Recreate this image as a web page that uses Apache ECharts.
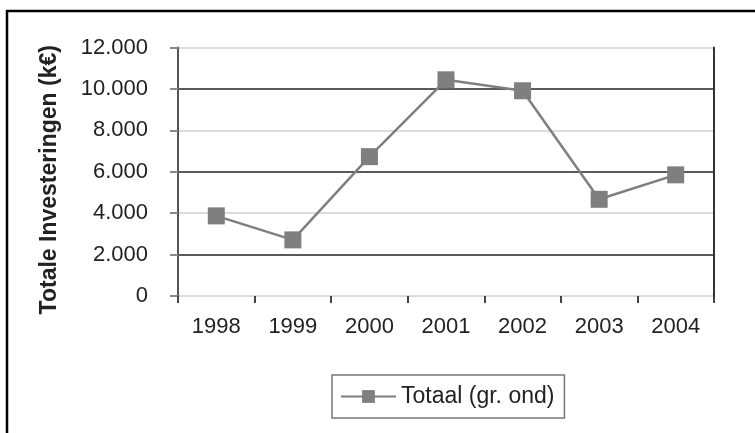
<!DOCTYPE html>
<html>
<head>
<meta charset="utf-8">
<script src="https://cdn.jsdelivr.net/npm/echarts@6/dist/echarts.min.js"></script>
<style>
html,body{margin:0;padding:0;background:#fff;}
#chart{width:755px;height:433px;}
</style>
</head>
<body>
<div id="chart"></div>
<script>
const categories = ['1998', '1999', '2000', '2001', '2002', '2003', '2004'];
const totaalValues = [3870, 2710, 6730, 10440, 9910, 4670, 5850];
const yTickLabels = ['0', '2.000', '4.000', '6.000', '8.000', '10.000', '12.000'];
const seriesName = 'Totaal (gr. ond)';
const yAxisTitle = 'Totale Investeringen (k€)';

const FONT = '"Liberation Sans", Arial, sans-serif';
const chart = echarts.init(document.getElementById('chart'), null, {renderer: 'canvas'});
chart.setOption({
  animation: false,
  backgroundColor: '#ffffff',
  textStyle: {fontFamily: FONT},
  graphic: [{
    type: 'polyline',
    shape: {points: [[7, 433], [7, 11], [755, 11]]},
    style: {stroke: '#000', lineWidth: 2.5, fill: null},
    silent: true
  }],
  grid: {left: 178, right: 41, top: 47.5, bottom: 137, containLabel: false},
  legend: {
    data: [seriesName],
    left: 332, top: 375,
    padding: [10, 10, 10, 8],
    borderColor: '#777', borderWidth: 1.5,
    itemWidth: 55, itemHeight: 16, itemGap: 4,
    textStyle: {fontFamily: FONT, fontSize: 23, color: '#222'}
  },
  xAxis: {
    type: 'category',
    data: categories,
    boundaryGap: true,
    axisLine: {show: false},
    axisTick: {show: true, length: 7, inside: false, lineStyle: {color: '#444', width: 2}},
    axisLabel: {margin: 20, fontSize: 22, color: '#222', fontFamily: FONT},
    splitLine: {show: false}
  },
  yAxis: [{
    type: 'value',
    min: 0, max: 12000, interval: 2000,
    name: yAxisTitle,
    nameLocation: 'middle',
    nameGap: 117,
    nameRotate: 90,
    nameTextStyle: {fontSize: 23, fontWeight: 'bold', color: '#222', fontFamily: FONT, padding: [0, 16, 0, 0]},
    axisLine: {show: true, lineStyle: {color: '#555', width: 2}},
    axisTick: {show: true, length: 8, lineStyle: {color: '#888', width: 2}},
    axisLabel: {
      margin: 30, fontSize: 22, color: '#222', fontFamily: FONT,
      formatter: function (v) { return yTickLabels[Math.round(v / 2000)]; }
    },
    splitLine: {show: true, lineStyle: {color: ['#dcdcdc', '#5a5a5a'], width: 2}}
  }, {
    type: 'value',
    min: 0, max: 12000, interval: 2000,
    position: 'right',
    axisLine: {show: true, lineStyle: {color: '#333', width: 2}},
    axisTick: {show: false},
    axisLabel: {show: false},
    splitLine: {show: false}
  }],
  series: [{
    name: seriesName,
    type: 'line',
    data: totaalValues,
    yAxisIndex: 0,
    symbol: 'rect',
    symbolSize: 17,
    showSymbol: true,
    itemStyle: {color: '#7f7f7f'},
    lineStyle: {color: '#7f7f7f', width: 2.5}
  }]
});
</script>
</body>
</html>
